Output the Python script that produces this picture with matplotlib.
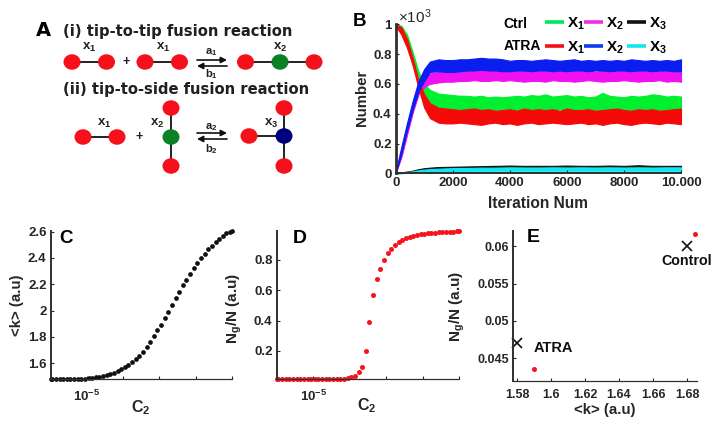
import numpy as np
import matplotlib
matplotlib.use("Agg")
import matplotlib.pyplot as plt
from matplotlib.patches import Ellipse
from matplotlib.ticker import FixedLocator

plt.rcParams.update({
    'font.family': ['Liberation Sans', 'DejaVu Sans'], 'font.weight': 'bold',
    'axes.labelweight': 'bold', 'mathtext.fontset': 'custom',
    'mathtext.rm': 'Liberation Sans', 'mathtext.bf': 'Liberation Sans:bold',
    'mathtext.it': 'Liberation Sans:bold', 'mathtext.default': 'bf',
})
W, H = 717, 425
DARK = '#262626'

# ---------- Panel B: bands (low / high edge of each noisy series)
iters = [0, 200, 400, 600, 800, 1000, 1200,
         1500, 1750, 2000, 2250, 2500, 2750, 3000, 3250, 3500, 3750, 4000, 4250,
         4500, 4750, 5000, 5250, 5500, 5750, 6000, 6250, 6500, 6750, 7000, 7250,
         7500, 7750, 8000, 8250, 8500, 8750, 9000, 9250, 9500, 9750, 10000]
ctrl_x1_low = [.99, .95, .87, .76, .64, .50, .45,
               .44, .435, .43, .43, .425, .43, .425, .43, .425, .43, .43, .425, .43, .43, .425,
               .43, .425, .43, .43, .425, .43, .43, .425, .43, .425, .43, .43, .425, .43, .425,
               .43, .425, .43, .425, .43]
ctrl_x1_high = [1.0, .99, .93, .81, .68, .60, .56,
                .535, .53, .525, .52, .52, .515, .52, .51, .515, .51, .515, .52, .515, .525, .52,
                .53, .515, .52, .525, .515, .52, .51, .515, .54, .52, .515, .51, .52, .515, .52,
                .53, .525, .515, .52, .515]
ctrl_x2_low = [0, .11, .26, .41, .53, .58, .60,
               .61, .615, .615, .62, .62, .625, .62, .62, .625, .62, .625, .62, .615, .62, .62,
               .615, .625, .62, .62, .615, .62, .625, .62, .615, .62, .62, .625, .62, .615, .62,
               .62, .625, .615, .62, .615]
ctrl_x2_high = [.01, .15, .31, .46, .58, .64, .67,
                .68, .685, .69, .685, .69, .695, .69, .695, .69, .685, .69, .695, .69, .685, .69,
                .685, .69, .695, .685, .69, .685, .69, .68, .69, .685, .69, .695, .685, .69, .685,
                .69, .685, .69, .685, .69]
atra_x1_low = [.99, .93, .84, .72, .57, .44, .37,
               .34, .335, .335, .34, .335, .33, .325, .335, .34, .33, .335, .325, .335, .34, .33,
               .335, .34, .335, .33, .335, .34, .33, .335, .325, .335, .34, .33, .325, .335, .34,
               .335, .33, .34, .335, .33]
atra_x1_high = [1.0, .98, .90, .77, .62, .53, .47,
                .44, .435, .43, .425, .43, .435, .425, .43, .42, .425, .43, .42, .435, .425, .43,
                .425, .43, .42, .435, .425, .425, .43, .42, .425, .43, .435, .425, .42, .43, .425,
                .43, .42, .425, .43, .435]
atra_x2_low = [0, .13, .29, .43, .55, .62, .68,
               .685, .68, .68, .685, .69, .69, .695, .69, .69, .685, .685, .69, .69, .685, .69,
               .69, .685, .69, .685, .69, .69, .685, .69, .69, .685, .69, .69, .685, .69, .69,
               .685, .69, .69, .685, .685]
atra_x2_high = [.01, .18, .34, .49, .62, .70, .75,
                .765, .76, .76, .765, .765, .77, .775, .77, .77, .765, .755, .76, .76, .755, .76,
                .765, .76, .755, .76, .765, .755, .76, .755, .76, .755, .76, .755, .765, .76, .755,
                .76, .755, .76, .755, .765]
iters_x3 = [0, 200, 400, 600, 800, 1000, 1200, 1500, 2000, 2500, 3000, 3500, 4000, 4500, 5000,
            5500, 6000, 6500, 7000, 7500, 8000, 8500, 9000, 9500, 10000]
ctrl_x3_low = [0, .002, .004, .006, .01, .016, .02, .022, .025, .025, .028, .028, .03, .03, .03,
               .03, .03, .03, .03, .03, .03, .03, .03, .03, .03]
ctrl_x3_high = [0, .006, .012, .018, .028, .034, .038, .042, .044, .046, .048, .05, .052, .05, .05,
                .05, .052, .05, .05, .052, .05, .054, .05, .05, .05]
atra_x3_low = [0, .001, .002, .003, .006, .01, .013, .015, .016, .016, .017, .017, .017, .017, .017,
               .017, .017, .017, .017, .017, .017, .017, .017, .017, .017]
atra_x3_high = [0, .005, .009, .013, .02, .025, .028, .031, .035, .036, .038, .038, .04, .039, .039,
                .04, .039, .04, .039, .04, .039, .04, .039, .04, .04]
b_xticks = [0, 2000, 4000, 6000, 8000, 10000]
b_xticklabels = ['0', '2000', '4000', '6000', '8000', '10.000']
b_yticks = [0, .2, .4, .6, .8, 1]
b_yticklabels = ['0', '0.2', '0.4', '0.6', '0.8', '1']

log_c2 = [-6.0] + list(np.arange(50) * 0.1 - 5.955) + [-1.0]
mean_k = [1.478, 1.478, 1.480, 1.479, 1.480, 1.479, 1.480, 1.480, 1.481, 1.482, 1.484, 1.486, 1.488,
          1.492, 1.497, 1.501, 1.509, 1.516, 1.527, 1.540, 1.554, 1.572, 1.590, 1.613, 1.635, 1.658,
          1.688, 1.726, 1.764, 1.807, 1.851, 1.891, 1.942, 1.992, 2.043, 2.094, 2.144, 2.193, 2.235,
          2.281, 2.324, 2.365, 2.403, 2.433, 2.466, 2.494, 2.519, 2.542, 2.567, 2.588, 2.600, 2.602]
ng_over_n = [.013, .013, .013, .013, .013, .013, .013, .013, .013, .013, .013, .013, .013, .013, .013,
             .013, .014, .014, .015, .017, .020, .027, .037, .062, .097, .202, .391, .567, .675, .741,
             .802, .844, .873, .899, .917, .932, .943, .952, .958, .965, .969, .973, .975, .978, .980,
             .982, .984, .985, .986, .987, .988, .989]
cd_xticks = [1e-5, 1e-4, 1e-3, 1e-2, 1e-1]
cd_xticklabels = ['$\\mathbf{10^{-5}}$', '', '', '', '']
c_yticks = [1.6, 1.8, 2.0, 2.2, 2.4, 2.6]
c_yticklabels = ['1.6', '1.8', '2', '2.2', '2.4', '2.6']
d_yticks = [.2, .4, .6, .8]
d_yticklabels = ['0.2', '0.4', '0.6', '0.8']

# ---------- Panel E
model_k = [1.59, 1.6845]
model_ng = [.0436, .0616]
exp_k = [1.58, 1.68]
exp_ng = [.047, .06]
e_xticks = [1.58, 1.60, 1.62, 1.64, 1.66, 1.68]
e_xticklabels = ['1.58', '1.6', '1.62', '1.64', '1.66', '1.68']
e_yticks = [.045, .05, .055, .06]
e_yticklabels = ['0.045', '0.05', '0.055', '0.06']

fig = plt.figure(figsize=(W / 100, H / 100), dpi=100)


def axes_px(left, top, right, bottom):
    ax = fig.add_axes([left / W, 1 - bottom / H, (right - left) / W, (bottom - top) / H])
    ax.patch.set_alpha(0)
    for s in ('top', 'right'):
        ax.spines[s].set_visible(False)
    for s in ('left', 'bottom'):
        ax.spines[s].set_color('#303030')
    return ax


# Panel B
axb = axes_px(395.7, 24.3, 681, 173.3)
axb.spines['left'].set_linewidth(2.0)
axb.spines['bottom'].set_linewidth(1.4)
for xs, low, high, col in [(iters, ctrl_x1_low, ctrl_x1_high, '#00f030'),
                           (iters, ctrl_x2_low, ctrl_x2_high, '#f010f0'),
                           (iters_x3, ctrl_x3_low, ctrl_x3_high, '#101010'),
                           (iters, atra_x1_low, atra_x1_high, '#f50a0a'),
                           (iters, atra_x2_low, atra_x2_high, '#0a1ef0'),
                           (iters_x3, atra_x3_low, atra_x3_high, '#10e8f0')]:
    axb.fill_between(xs, low, high, color=col, lw=0.8, clip_on=False)
axb.set_xlim(0, 10000)
axb.set_ylim(0, 1)
axb.set_xticks(b_xticks, b_xticklabels)
axb.set_yticks(b_yticks, b_yticklabels)
axb.tick_params(direction='in', length=2.5, width=0.8, labelsize=9.5, pad=3, colors=DARK)

# Panel C
axc = axes_px(50.7, 230.7, 232, 379.3)
axc.semilogx(10.0 ** np.array(log_c2), mean_k, 'o', color='#101010', ms=3.4, mew=0, clip_on=False)
axc.set_xlim(1e-6, 1e-1)
axc.set_ylim(1.478, 2.607)
axc.set_yticks(c_yticks, c_yticklabels)

# Panel D
axd = axes_px(276.7, 230.7, 459, 379.3)
axd.semilogx(10.0 ** np.array(log_c2), ng_over_n, 'o', color='#f5141e', ms=3.6, mew=0, clip_on=False)
axd.set_xlim(1e-6, 1e-1)
axd.set_ylim(.013, .993)
axd.set_yticks(d_yticks, d_yticklabels)

for ax in (axc, axd):
    ax.set_xticks(cd_xticks, cd_xticklabels)
    ax.minorticks_off()
    ax.xaxis.set_major_locator(FixedLocator(cd_xticks))

# Panel E
axe = axes_px(513.3, 231, 696.7, 380.7)
axe.plot(model_k, model_ng, 'o', color='#f5141e', ms=3.6, mew=0, clip_on=False)
axe.plot(exp_k, exp_ng, 'x', color='#101010', ms=7.5, mew=1.2, clip_on=False)
axe.set_xlim(1.5778, 1.6857)
axe.set_ylim(.0420, .06205)
axe.set_xticks(e_xticks, e_xticklabels)
axe.set_yticks(e_yticks, e_yticklabels)

for ax in (axc, axd, axe):
    ax.spines['left'].set_linewidth(1.4)
    ax.spines['bottom'].set_linewidth(0.9)
    ax.tick_params(direction='in', length=2, width=0.8, labelsize=9.5, pad=3, colors=DARK)
axe.tick_params(labelsize=9)
axe.tick_params(axis='x', pad=6)
axc.tick_params(axis='x', pad=7)
axd.tick_params(axis='x', pad=7)

# Overlay in pixel coordinates for the schematic, letters, legend and free labels
ov = fig.add_axes([0, 0, 1, 1], zorder=10)
ov.set_xlim(0, W)
ov.set_ylim(H, 0)
ov.axis('off')
ov.patch.set_alpha(0)


def txt(x, y, s, size=10, rot=0, color=DARK, weight='bold', family=None, ha='center'):
    kw = {'family': family} if family else {}
    ov.text(x, y, s, fontsize=size, rotation=rot, color=color, weight=weight, ha=ha, va='center', **kw)


RED, GREEN, NAVY = '#f5101c', '#0b8025', '#00007f'


def node(x, y, c=RED):
    ov.add_patch(Ellipse((x, y), 17, 15.5, color=c, lw=0, zorder=3))


def bond(x0, y0, x1, y1):
    ov.plot([x0, x1], [y0, y1], color='#101010', lw=1.3, zorder=2)


def arrows(x0, x1, y):
    for xs, xe, yy in ((x0, x1, y - 3), (x1, x0, y + 3)):
        ov.annotate('', xy=(xe, yy), xytext=(xs, yy),
                    arrowprops=dict(arrowstyle='-|>,head_length=0.35,head_width=0.18', color='#101010', lw=1.2,
                                    shrinkA=0, shrinkB=0))


# row (i)
for xa, xb in ((72, 106.5), (145, 179.5)):
    bond(xa, 62, xb, 62)
    node(xa, 62)
    node(xb, 62)
bond(245.5, 62, 314, 62)
node(245.5, 62)
node(280, 62, GREEN)
node(314, 62)
# row (ii)
bond(83, 137, 117, 137)
node(83, 137)
node(117, 137)
bond(171, 108, 171, 166)
node(171, 108)
node(171, 137, GREEN)
node(171, 166)
bond(249, 136, 284, 136)
bond(284, 108, 284, 166)
node(249, 136)
node(284, 136, NAVY)
node(284, 108)
node(284, 166)
arrows(197, 227, 63)
arrows(197, 227, 136)

SANS = 'DejaVu Sans'
txt(43, 30, 'A', 14, family=SANS, color='black')
txt(63, 31, '(i) tip-to-tip fusion reaction', 10.6, family=SANS, ha='left', color='#202020')
txt(63, 89, '(ii) tip-to-side fusion reaction', 10.6, family=SANS, ha='left', color='#202020')
for x, y, s in [(89, 47, 'x$_1$'), (163, 47, 'x$_1$'), (280, 47, 'x$_2$'), (104, 123, 'x$_1$'),
                (157, 123, 'x$_2$'), (271, 123, 'x$_3$')]:
    txt(x, y, s, 9.5, color='#202020')
for x, y, s in [(211, 52, 'a$_1$'), (211, 74, 'b$_1$'), (211, 127, 'a$_2$'), (211, 149, 'b$_2$')]:
    txt(x, y, s, 8, color='#202020')
txt(126, 62, '+', 9, color='#202020')
txt(139.5, 137, '+', 9, color='#202020')

txt(360, 21, 'B', 13.5, color='black')
txt(66, 238, 'C', 13.5, color='black')
txt(300, 238, 'D', 14, color='black')
txt(533, 237, 'E', 14, color='black')

# panel B free text + legend
txt(398, 17, '$\\mathregular{\\times 10^{3}}$', 11, ha='left', weight='normal')
txt(362, 98, 'Number', 10.8, rot=90)
txt(538, 203, 'Iteration Num', 11.2)
txt(515.5, 24, 'Ctrl', 10, color='black')
txt(522, 46, 'ATRA', 10, color='black')
for y, cols in ((22, ('#00e85a', '#f030e8', '#101010')), (46, ('#f01018', '#0a3cf0', '#10e8f0'))):
    for x, c, s in zip((545, 584, 627), cols, ('X$_1$', 'X$_2$', 'X$_3$')):
        ov.plot([x, x + 18.5], [y, y], color=c, lw=2.6, solid_capstyle='butt')
        txt(x + 22, y + 2, s, 11, ha='left', color='black')

# panels C, D, E free text
txt(141, 408, 'C$_2$', 11.5)
txt(367, 406, 'C$_2$', 11.5)
txt(17, 305, '<k> (a.u)', 10.8, rot=90)
txt(234, 308, 'N$_g$/N (a.u)', 11, rot=90)
txt(457, 306, 'N$_g$/N (a.u)', 11, rot=90)
txt(605, 410, '<k> (a.u)', 10.8)
txt(686.5, 261, 'Control', 10.3, color='#101010')
txt(553, 348, 'ATRA', 10.5, color='#101010')

fig.savefig('out.png', dpi=100)
